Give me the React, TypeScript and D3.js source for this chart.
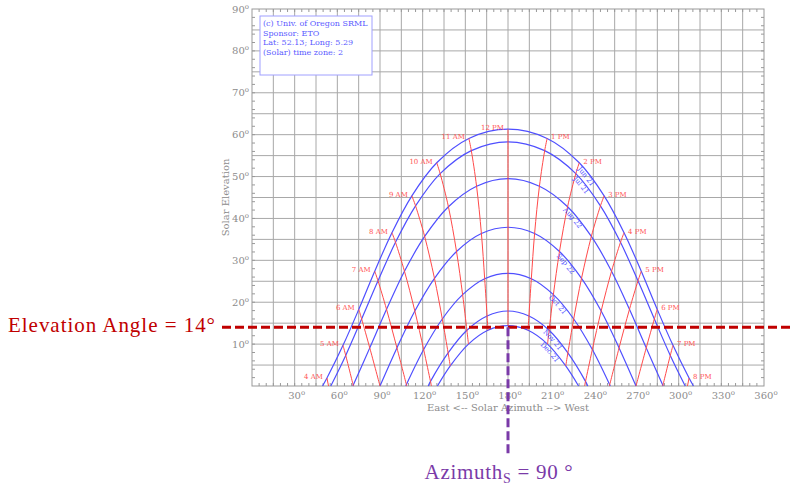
import React, { useLayoutEffect, useRef, useState } from "react";
import * as d3 from "d3";

const W = 792;
const H = 490;

// Hours 4 AM .. 8 PM
const hourLabels = ["4 AM", "5 AM", "6 AM", "7 AM", "8 AM", "9 AM", "10 AM", "11 AM", "12 PM", "1 PM", "2 PM", "3 PM", "4 PM", "5 PM", "6 PM", "7 PM", "8 PM"];
const dateLabels = ["Jun 21", "Jul 21", "Aug 22", "Sep 22", "Oct 21", "Nov 21", "Dec 21"];

// Solar azimuth / elevation at each hour (null = sun below horizon)
const junAz = [52.7, 64.0, 75.1, 86.3, 98.4, 112.4, 129.9, 152.5, 180, 207.5, 230.1, 247.6, 261.6, 273.7, 284.9, 296.0, 307.3];
const junEl = [1.9, 9.7, 18.3, 27.4, 36.6, 45.4, 53.3, 59.1, 61.3, 59.1, 53.3, 45.4, 36.6, 27.4, 18.3, 9.7, 1.9];
const julAz = [null, 65.9, 77.1, 88.6, 100.9, 115.0, 132.3, 154.2, 180, 205.8, 227.7, 245.0, 259.1, 271.4, 282.9, 294.1, null];
const julEl = [null, 7.3, 16.0, 25.1, 34.3, 43.0, 50.7, 56.2, 58.3, 56.2, 50.7, 43.0, 34.3, 25.1, 16.0, 7.3, null];
const augAz = [null, 71.1, 82.8, 94.6, 107.2, 121.4, 138.1, 157.9, 180, 202.1, 221.9, 238.6, 252.8, 265.4, 277.2, 288.9, null];
const augEl = [null, 0.2, 9.1, 18.3, 27.4, 35.7, 42.8, 47.7, 49.5, 47.7, 42.8, 35.7, 27.4, 18.3, 9.1, 0.2, null];
const sepAz = [null, null, 90, 101.9, 114.5, 128.3, 143.8, 161.3, 180, 198.7, 216.2, 231.7, 245.5, 258.1, 270, null, null];
const sepEl = [null, null, 0, 9.1, 17.9, 25.7, 32.1, 36.4, 37.9, 36.4, 32.1, 25.7, 17.9, 9.1, 0, null, null];
const octAz = [null, null, null, 108.5, 120.7, 133.8, 148.1, 163.6, 180, 196.4, 211.9, 226.2, 239.3, 251.5, null, null, null];
const octEl = [null, null, null, 0.3, 8.7, 16.0, 21.8, 25.6, 26.9, 25.6, 21.8, 16.0, 8.7, 0.3, null, null, null];
const novAz = [null, null, null, null, 125.5, 137.9, 151.1, 165.3, 180, 194.7, 208.9, 222.1, 234.5, null, null, null, null];
const novEl = [null, null, null, null, 1.1, 7.9, 13.3, 16.7, 17.9, 16.7, 13.3, 7.9, 1.1, null, null, null, null];
const decAz = [null, null, null, null, null, 139.4, 152.2, 165.9, 180, 194.1, 207.8, 220.6, null, null, null, null, null];
const decEl = [null, null, null, null, null, 4.8, 10.0, 13.3, 14.4, 13.3, 10.0, 4.8, null, null, null, null, null];

const sunriseAz = [49.6, 55.4, 70.9, 90, 108.1, 123.9, 130.4];
const sunsetAz = [310.4, 304.6, 289.1, 270, 251.9, 236.1, 229.6];
// Azimuth where each hour line meets the horizon (null = ends at Dec 21 curve)
const hourHorizonAz = [53.8, 71.3, 90, 108.8, 126.2, null, null, null, null, null, null, null, 233.8, 251.3, 270, 288.8, 306.2];
// Where the date labels sit along their curves
const dateLabelAz = [237, 233.5, 227.5, 222.6, 217, 213.5, 211.5];

const xTicks = [30, 60, 90, 120, 150, 180, 210, 240, 270, 300, 330, 360];
const yTicks = [10, 20, 30, 40, 50, 60, 70, 80, 90];
const infoLines = ["(c) Univ. of Oregon SRML", "Sponsor: ETO", "Lat: 52.13; Long: 5.29", "(Solar) time zone: 2"];

const dateAz = [junAz, julAz, augAz, sepAz, octAz, novAz, decAz];
const dateEl = [junEl, julEl, augEl, sepEl, octEl, novEl, decEl];

const elevationMark = 14;
const azimuthMark = 180;

const SERIF = "'DejaVu Serif', serif";
const LATEX = "'Liberation Serif', 'Times New Roman', serif";

export default function App() {
  const x = d3.scaleLinear().domain([0, 360]).range([252, 764]);
  const y = d3.scaleLinear().domain([0, 90]).range([386, 9]);
  const line = d3
    .line<[number, number]>()
    .x((d) => x(d[0]))
    .y((d) => y(d[1]))
    .curve(d3.curveCatmullRom.alpha(0.5));

  const datePts: [number, number][][] = dateLabels.map((_, i) => {
    const pts: [number, number][] = [[sunriseAz[i], 0]];
    dateAz[i].forEach((a, h) => {
      const e = dateEl[i][h];
      if (a != null && e != null && e > 0.5) pts.push([a, e]);
    });
    pts.push([sunsetAz[i], 0]);
    return pts;
  });

  const hourPts: [number, number][][] = hourLabels.map((_, h) => {
    const pts: [number, number][] = [];
    dateLabels.forEach((_, i) => {
      const a = dateAz[i][h];
      const e = dateEl[i][h];
      if (a != null && e != null && e > 0.5) pts.push([a, e]);
    });
    if (hourHorizonAz[h] != null) pts.push([hourHorizonAz[h] as number, 0]);
    return pts;
  });

  const pathRefs = useRef<(SVGPathElement | null)[]>([]);
  const [offsets, setOffsets] = useState<number[] | null>(null);
  useLayoutEffect(() => {
    const res = dateLabels.map((_, i) => {
      const p = pathRefs.current[i];
      if (!p) return 0;
      const L = p.getTotalLength();
      const tx = x(dateLabelAz[i]);
      let lo = 0;
      let hi = L;
      for (let k = 0; k < 40; k++) {
        const mid = (lo + hi) / 2;
        if (p.getPointAtLength(mid).x < tx) lo = mid;
        else hi = mid;
      }
      return lo;
    });
    setOffsets(res);
  }, []);

  const gridX = d3.range(15, 360, 15);
  const gridY = d3.range(5, 90, 5);
  const minorX = d3.range(5, 360, 5);
  const minorY = d3.range(2, 90, 2);
  const x0 = x(0), x1 = x(360), y0 = y(0), y1 = y(90);
  const gray = "#8c8c8c";
  const blue = "#4f4fff";
  const red = "#ff4a4a";

  return (
    <svg width={W} height={H} style={{ position: "absolute", left: 0, top: 0, background: "#fff" }}>
      <rect x={0} y={0} width={W} height={H} fill="#fff" />
      {/* grid */}
      <g stroke="#a8a8a8" strokeWidth={1}>
        {gridX.map((v) => (
          <line key={"gx" + v} x1={x(v)} x2={x(v)} y1={y1} y2={y0} />
        ))}
        {gridY.map((v) => (
          <line key={"gy" + v} x1={x0} x2={x1} y1={y(v)} y2={y(v)} />
        ))}
      </g>
      {/* minor ticks */}
      <g stroke="#999" strokeWidth={1}>
        {minorX.map((v) => (
          <g key={"mx" + v}>
            <line x1={x(v)} x2={x(v)} y1={y0} y2={y0 - 3} />
            <line x1={x(v)} x2={x(v)} y1={y1} y2={y1 + 3} />
          </g>
        ))}
        {minorY.map((v) => (
          <g key={"my" + v}>
            <line x1={x0} x2={x0 + 3} y1={y(v)} y2={y(v)} />
            <line x1={x1} x2={x1 - 3} y1={y(v)} y2={y(v)} />
          </g>
        ))}
      </g>
      <rect x={x0} y={y1} width={x1 - x0} height={y0 - y1} fill="none" stroke="#999" strokeWidth={1} />

      {/* tick labels */}
      <g fill={gray} fontFamily={SERIF} fontSize={10}>
        {xTicks.map((v) => (
          <text key={"xt" + v} x={x(v) + 2} y={399} textAnchor="middle">
            {v}
            <tspan fontSize={7} dy={-4}>o</tspan>
          </text>
        ))}
        {yTicks.map((v) => (
          <text key={"yt" + v} x={249} y={y(v) + 3.5} textAnchor="end">
            {v}
            <tspan fontSize={7} dy={-4}>o</tspan>
          </text>
        ))}
        <text x={(x0 + x1) / 2} y={411} textAnchor="middle">East &lt;-- Solar Azimuth --&gt; West</text>
        <text transform={`translate(229,${(y0 + y1) / 2}) rotate(-90)`} textAnchor="middle">Solar Elevation</text>
      </g>

      {/* date curves */}
      <g fill="none" stroke={blue} strokeWidth={1.2}>
        {datePts.map((pts, i) => (
          <path key={"d" + i} id={"date-" + i} ref={(el) => { pathRefs.current[i] = el; }} d={line(pts) || ""} />
        ))}
      </g>
      {/* hour lines */}
      <g fill="none" stroke={red} strokeWidth={1}>
        {hourPts.map((pts, h) => (
          <path key={"h" + h} d={line(pts) || ""} />
        ))}
      </g>
      {/* hour labels */}
      <g fill="#ff5555" fontFamily={SERIF} fontSize={7}>
        {hourPts.map((pts, h) => {
          const top = pts[0];
          const am = h <= 8;
          return (
            <text key={"hl" + h} x={x(top[0]) + (am ? -4 : 4)} y={y(top[1]) + 1} textAnchor={am ? "end" : "start"}>
              {hourLabels[h]}
            </text>
          );
        })}
      </g>
      {/* date labels */}
      {offsets && (
        <g fill={blue} fontFamily={SERIF} fontSize={7}>
          {dateLabels.map((d, i) => (
            <text key={"dl" + i} dy={6}>
              <textPath href={"#date-" + i} startOffset={offsets[i]} textAnchor="middle">
                {d}
              </textPath>
            </text>
          ))}
        </g>
      )}

      {/* info box */}
      <rect x={260} y={16} width={112} height={59} fill="#fff" stroke="#a0a0ff" strokeWidth={1} />
      <g fill="#5a5aff" fontFamily={SERIF} fontSize={8}>
        {infoLines.map((t, i) => (
          <text key={"il" + i} x={263} y={26 + i * 9.5}>{t}</text>
        ))}
      </g>

      {/* annotations */}
      <line x1={222} x2={792} y1={y(elevationMark)} y2={y(elevationMark)} stroke="#c00000" strokeWidth={3} strokeDasharray="9,4" />
      <text x={8} y={332} fill="#c00000" fontFamily={LATEX} fontSize={21} textLength={207} lengthAdjust="spacing">
        Elevation Angle = {elevationMark}°
      </text>
      <line x1={x(azimuthMark)} x2={x(azimuthMark)} y1={y(elevationMark)} y2={457} stroke="#7a3aa8" strokeWidth={3} strokeDasharray="9,4" />
      <text x={499} y={479} fill="#7a3aa8" fontFamily={LATEX} fontSize={21} letterSpacing={0.7} textAnchor="middle">
        Azimuth
        <tspan fontSize={14} dy={4}>S</tspan>
        <tspan dy={-4}> = 90 °</tspan>
      </text>
    </svg>
  );
}
